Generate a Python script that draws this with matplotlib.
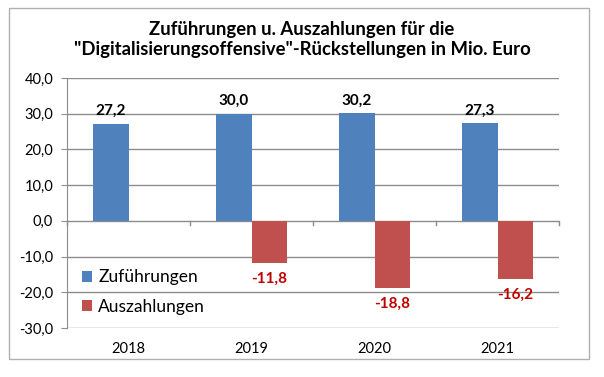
import matplotlib
matplotlib.use("Agg")
import matplotlib.pyplot as plt
from matplotlib.patches import Rectangle
import numpy as np

years = ["2018", "2019", "2020", "2021"]
zufuehrungen = [27.2, 30.0, 30.2, 27.3]
auszahlungen = [np.nan, -11.8, -18.8, -16.2]
yticks = [-30, -20, -10, 0, 10, 20, 30, 40]

plt.rcParams['font.family'] = ['Lato', 'DejaVu Sans']

fig = plt.figure(figsize=(6.04, 3.77), dpi=100)
fig.patches.append(Rectangle((9/604, 1-359/377), (589-9)/604, (359-8)/377,
                             transform=fig.transFigure, fill=False,
                             edgecolor='#b0b0b0', linewidth=1))

ax = fig.add_axes([67/604, 1-328/377, (559-67)/604, (328-78)/377])
x = np.arange(len(years))
w = 0.285
blue = '#4F81BD'
red = '#C0504D'
b1 = ax.bar(x - w/2, zufuehrungen, w, color=blue, label='Zuführungen', zorder=3)
b2 = ax.bar(x + w/2, auszahlungen, w, color=red, label='Auszahlungen', zorder=3)

def fmt(v):
    return f"{v:.1f}".replace('.', ',')

for xi, v in zip(x - w/2, zufuehrungen):
    ax.annotate(fmt(v), (xi, v), xytext=(0, 4), textcoords='offset points',
                ha='center', va='bottom', fontsize=11, fontweight='bold', color='black')
for xi, v in zip(x + w/2, auszahlungen):
    if not np.isnan(v):
        ax.annotate(fmt(v), (xi, v), xytext=(0, -6.5), textcoords='offset points',
                    ha='center', va='top', fontsize=11, fontweight='bold', color='#C00000')

ax.set_ylim(-30, 40)
ax.set_xlim(-0.5, 3.5)
ax.set_yticks(yticks)
ax.set_yticklabels([fmt(float(t)) for t in yticks], fontsize=10.5)
ax.yaxis.grid(True, color='#8c8c8c', linewidth=1, zorder=0)
ax.set_axisbelow(True)
for s in ['top', 'right', 'bottom']:
    ax.spines[s].set_visible(False)
ax.spines['left'].set_color('#8c8c8c')
ax.tick_params(axis='y', length=4, color='#8c8c8c', pad=6)

ax.set_xticks(x)
ax.set_xticklabels(years, fontsize=10.5)
ax.tick_params(axis='x', length=0, pad=10)

for b in np.arange(-0.5, 4.0, 1.0):
    ax.plot([b, b], [0, -1.2], color='#8c8c8c', linewidth=1, zorder=2, clip_on=False)

leg = ax.legend(loc='center left', bbox_to_anchor=(0.03, 0.144), frameon=False,
                fontsize=12.5, handlelength=0.6, handleheight=0.6,
                handletextpad=0.35, labelspacing=0.75, borderaxespad=0, borderpad=0)

fig.text(0.5, 1-21/377, 'Zuführungen u. Auszahlungen für die\n"Digitalisierungsoffensive"-Rückstellungen in Mio. Euro',
         ha='center', va='top', fontsize=13.3, fontweight='bold', linespacing=1.2)

fig.savefig('out.png', dpi=100)
